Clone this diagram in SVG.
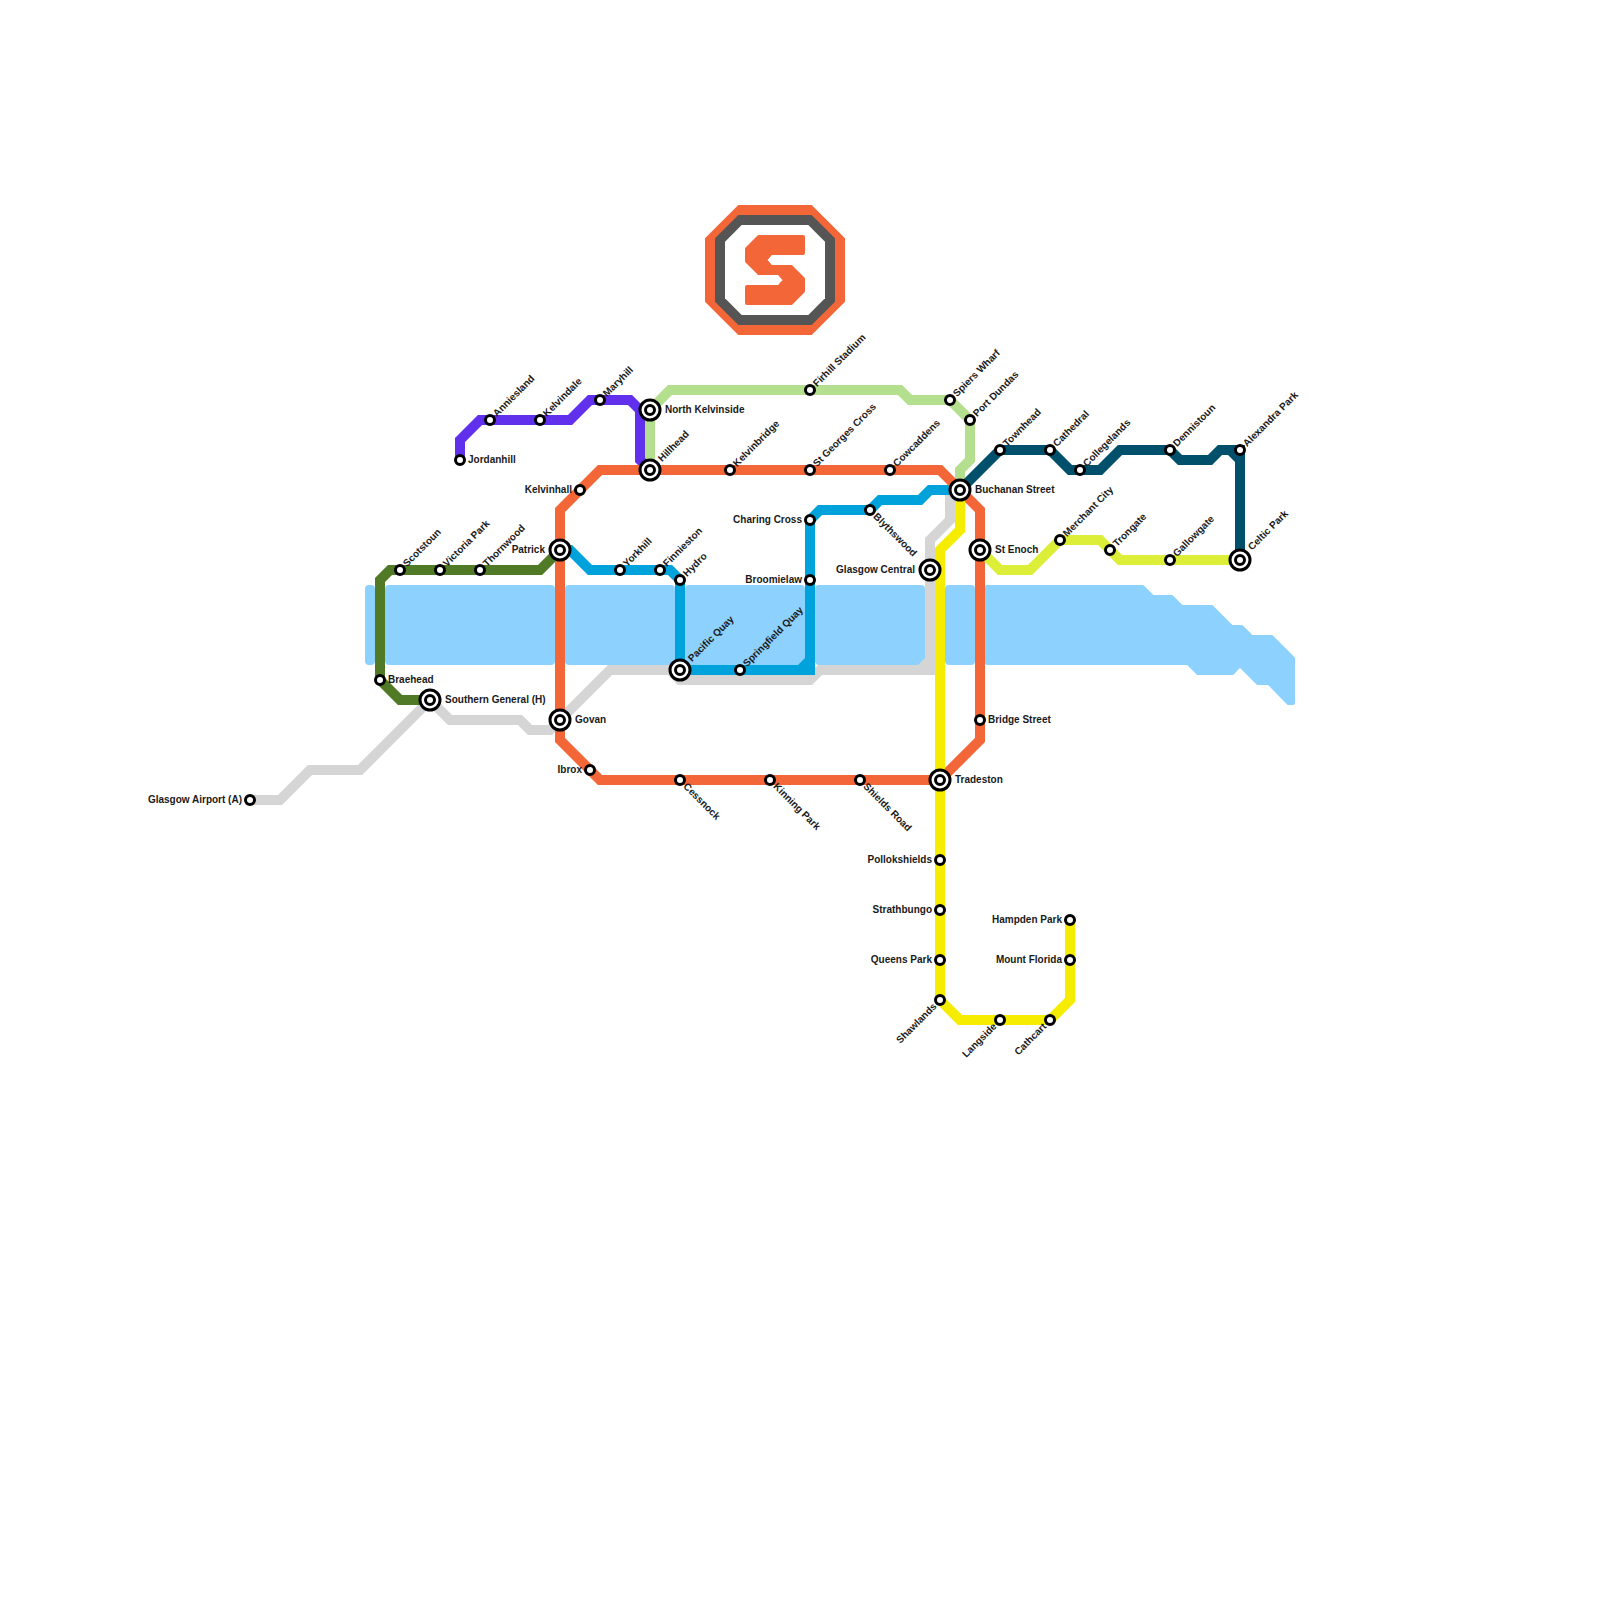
<svg xmlns="http://www.w3.org/2000/svg" width="1600" height="1600" viewBox="0 0 1600 1600">
<style>
.w{fill:#8dd2ff;stroke:#8dd2ff;stroke-width:4;stroke-linejoin:round}
.l{fill:none;stroke-width:10;stroke-linejoin:miter}
.s{fill:#fff;stroke:#000;stroke-width:3}
.o{fill:#fff;stroke:#000;stroke-width:3}
text{font-family:"Liberation Sans",Arial,sans-serif;font-size:10px;font-weight:700;fill:#1a1a1a}
.e{text-anchor:end}
</style>
<rect width="1600" height="1600" fill="#fff"/>
<g id="water">
<rect class="w" x="367" y="587" width="6" height="76" rx="2"/>
<rect class="w" x="387" y="587" width="166" height="76" rx="2"/>
<rect class="w" x="567" y="587" width="106" height="76" rx="2"/>
<rect class="w" x="687" y="587" width="116" height="76" rx="2"/>
<rect class="w" x="817" y="587" width="106" height="76" rx="2"/>
<rect class="w" x="947" y="587" width="26" height="76" rx="2"/>
<polygon class="w" points="987,587 1142.5,587 1152.5,597 1171.5,597 1181.5,607 1211.5,607 1231.5,627 1241.5,627 1251.5,637 1271.5,637 1293,658.5 1293,703 1288.5,703 1269,683 1258,683 1240,665 1232.5,673 1198,673 1188,663 987,663"/>
</g>
<g id="logo">
<polygon points="738.3,205 811.7,205 845,238.3 845,301.7 811.7,335 738.3,335 705,301.7 705,238.3" fill="#f26638"/>
<polygon points="738.3,215 811.7,215 835,238.3 835,301.7 811.7,325 738.3,325 715,301.7 715,238.3" fill="#555"/>
<polygon points="741.7,225 808.3,225 825,241.7 825,298.3 808.3,315 741.7,315 725,298.3 725,241.7" fill="#fff"/>
<polygon points="759,237 803,237 803,253 771,253 765,260 771,267 791,267 803,279 803,291 791,303 747,303 747,287 779,287 785,280 779,273 759,273 747,261 747,249" fill="#f26638" stroke="#f26638" stroke-width="4" stroke-linejoin="round"/>
</g>
<g id="connectors">
<path class="l" stroke="#d5d5d5" d="M250,800H280L310,770H360L430,700L450,720H520L530,730H550L610,670H670L680,680H810L820,670H930V540L950,520V490"/>
<polygon fill="#d5d5d5" points="925,665 925,658 918,665"/>
<path class="l" stroke="#b3df8e" d="M650,470V410L670,390H900L910,400H950L970,420V460L960,470V490"/>
<path class="l" stroke="#6030ec" d="M460,460V440L480,420H570L590,400H630L640,410V460L650,470"/>
<path class="l" stroke="#507a26" d="M560,550L540,570H390L380,580V680L400,700H430"/>
<path class="l" stroke="#00a2dc" d="M560,550H570L590,570H670L680,580V670H810V520L820,510H870L880,500H920L930,490H960"/>
<polygon fill="#00a2dc" points="805,665 805,658 798,665"/>
<path class="l" stroke="#f26638" d="M940,780H600L560,740V510L600,470H940L980,510V740L940,780"/>
<path class="l" stroke="#00506b" d="M960,490L1000,450H1050L1070,470H1100L1120,450H1170L1180,460H1210L1220,450H1240V560"/>
<polygon fill="#00506b" points="1235,455 1228,455 1235,462"/>
<path class="l" stroke="#dcee37" d="M980,550L1000,570H1030L1060,540H1100L1120,560H1240"/>
<path class="l" stroke="#f5ec00" d="M960,490V530L940,550V1000L960,1020H1050L1070,1000V920"/>
</g>
<g id="airport"><circle class="s" cx="250" cy="800" r="4.5"/><text class="e" x="242" y="803">Glasgow Airport (A)</text></g>
<g id="jordanhill"><circle class="s" cx="460" cy="460" r="4.5"/><text x="468" y="463">Jordanhill</text></g>
<g id="anniesland"><circle class="s" cx="490" cy="420" r="4.5"/><text transform="translate(490 420) rotate(-45)" x="7" y="3">Anniesland</text></g>
<g id="kelvindale"><circle class="s" cx="540" cy="420" r="4.5"/><text transform="translate(540 420) rotate(-45)" x="7" y="3">Kelvindale</text></g>
<g id="maryhill"><circle class="s" cx="600" cy="400" r="4.5"/><text transform="translate(600 400) rotate(-45)" x="7" y="3">Maryhill</text></g>
<g id="north-kelvinside"><circle class="o" cx="650" cy="410" r="10"/><circle class="s" cx="650" cy="410" r="4.5"/><text x="665" y="413">North Kelvinside</text></g>
<g id="hillhead"><circle class="o" cx="650" cy="470" r="10"/><circle class="s" cx="650" cy="470" r="4.5"/><text transform="translate(650 470) rotate(-45)" x="14" y="3">Hillhead</text></g>
<g id="kelvinhall"><circle class="s" cx="580" cy="490" r="4.5"/><text class="e" x="572" y="493">Kelvinhall</text></g>
<g id="patrick"><circle class="o" cx="560" cy="550" r="10"/><circle class="s" cx="560" cy="550" r="4.5"/><text class="e" x="545" y="553">Patrick</text></g>
<g id="scotstoun"><circle class="s" cx="400" cy="570" r="4.5"/><text transform="translate(400 570) rotate(-45)" x="7" y="3">Scotstoun</text></g>
<g id="victoria-park"><circle class="s" cx="440" cy="570" r="4.5"/><text transform="translate(440 570) rotate(-45)" x="7" y="3">Victoria Park</text></g>
<g id="thornwood"><circle class="s" cx="480" cy="570" r="4.5"/><text transform="translate(480 570) rotate(-45)" x="7" y="3">Thornwood</text></g>
<g id="yorkhill"><circle class="s" cx="620" cy="570" r="4.5"/><text transform="translate(620 570) rotate(-45)" x="7" y="3">Yorkhill</text></g>
<g id="finnieston"><circle class="s" cx="660" cy="570" r="4.5"/><text transform="translate(660 570) rotate(-45)" x="7" y="3">Finnieston</text></g>
<g id="hydro"><circle class="s" cx="680" cy="580" r="4.5"/><text transform="translate(680 580) rotate(-45)" x="7" y="3">Hydro</text></g>
<g id="pacific-quay"><circle class="o" cx="680" cy="670" r="10"/><circle class="s" cx="680" cy="670" r="4.5"/><text transform="translate(680 670) rotate(-45)" x="14" y="3">Pacific Quay</text></g>
<g id="springfield-quay"><circle class="s" cx="740" cy="670" r="4.5"/><text transform="translate(740 670) rotate(-45)" x="7" y="3">Springfield Quay</text></g>
<g id="braehead"><circle class="s" cx="380" cy="680" r="4.5"/><text x="388" y="682.5">Braehead</text></g>
<g id="southern-general"><circle class="o" cx="430" cy="700" r="10"/><circle class="s" cx="430" cy="700" r="4.5"/><text x="445" y="702.5">Southern General (H)</text></g>
<g id="govan"><circle class="o" cx="560" cy="720" r="10"/><circle class="s" cx="560" cy="720" r="4.5"/><text x="575" y="723">Govan</text></g>
<g id="ibrox"><circle class="s" cx="590" cy="770" r="4.5"/><text class="e" x="582" y="773">Ibrox</text></g>
<g id="cessnock"><circle class="s" cx="680" cy="780" r="4.5"/><text transform="translate(680 780) rotate(45)" x="7" y="3">Cessnock</text></g>
<g id="kinning-park"><circle class="s" cx="770" cy="780" r="4.5"/><text transform="translate(770 780) rotate(45)" x="7" y="3">Kinning Park</text></g>
<g id="shields-road"><circle class="s" cx="860" cy="780" r="4.5"/><text transform="translate(860 780) rotate(45)" x="7" y="3">Shields Road</text></g>
<g id="tradeston"><circle class="o" cx="940" cy="780" r="10"/><circle class="s" cx="940" cy="780" r="4.5"/><text x="955" y="783">Tradeston</text></g>
<g id="pollokshields"><circle class="s" cx="940" cy="860" r="4.5"/><text class="e" x="932" y="863">Pollokshields</text></g>
<g id="strathbungo"><circle class="s" cx="940" cy="910" r="4.5"/><text class="e" x="932" y="913">Strathbungo</text></g>
<g id="queens-park"><circle class="s" cx="940" cy="960" r="4.5"/><text class="e" x="932" y="963">Queens Park</text></g>
<g id="shawlands"><circle class="s" cx="940" cy="1000" r="4.5"/><text class="e" transform="translate(940 1000) rotate(-45)" x="-7" y="3">Shawlands</text></g>
<g id="langside"><circle class="s" cx="1000" cy="1020" r="4.5"/><text class="e" transform="translate(1000 1020) rotate(-45)" x="-7" y="3">Langside</text></g>
<g id="cathcart"><circle class="s" cx="1050" cy="1020" r="4.5"/><text class="e" transform="translate(1050 1020) rotate(-45)" x="-7" y="3">Cathcart</text></g>
<g id="hampden-park"><circle class="s" cx="1070" cy="920" r="4.5"/><text class="e" x="1062" y="923">Hampden Park</text></g>
<g id="mount-florida"><circle class="s" cx="1070" cy="960" r="4.5"/><text class="e" x="1062" y="963">Mount Florida</text></g>
<g id="bridge-street"><circle class="s" cx="980" cy="720" r="4.5"/><text x="988" y="723">Bridge Street</text></g>
<g id="st-enoch"><circle class="o" cx="980" cy="550" r="10"/><circle class="s" cx="980" cy="550" r="4.5"/><text x="995" y="553">St Enoch</text></g>
<g id="glasgow-central"><circle class="o" cx="930" cy="570" r="10"/><circle class="s" cx="930" cy="570" r="4.5"/><text class="e" x="915" y="573">Glasgow Central</text></g>
<g id="charing-cross"><circle class="s" cx="810" cy="520" r="4.5"/><text class="e" x="802" y="523">Charing Cross</text></g>
<g id="broomielaw"><circle class="s" cx="810" cy="580" r="4.5"/><text class="e" x="802" y="583">Broomielaw</text></g>
<g id="blythswood"><circle class="s" cx="870" cy="510" r="4.5"/><text transform="translate(870 510) rotate(45)" x="7" y="3">Blythswood</text></g>
<g id="kelvinbridge"><circle class="s" cx="730" cy="470" r="4.5"/><text transform="translate(730 470) rotate(-45)" x="7" y="3">Kelvinbridge</text></g>
<g id="st-georges-cross"><circle class="s" cx="810" cy="470" r="4.5"/><text transform="translate(810 470) rotate(-45)" x="7" y="3">St Georges Cross</text></g>
<g id="cowcaddens"><circle class="s" cx="890" cy="470" r="4.5"/><text transform="translate(890 470) rotate(-45)" x="7" y="3">Cowcaddens</text></g>
<g id="firhill-stadium"><circle class="s" cx="810" cy="390" r="4.5"/><text transform="translate(810 390) rotate(-45)" x="7" y="3">Firhill Stadium</text></g>
<g id="spiers-wharf"><circle class="s" cx="950" cy="400" r="4.5"/><text transform="translate(950 400) rotate(-45)" x="7" y="3">Spiers Wharf</text></g>
<g id="port-dundas"><circle class="s" cx="970" cy="420" r="4.5"/><text transform="translate(970 420) rotate(-45)" x="7" y="3">Port Dundas</text></g>
<g id="buchanan-street"><circle class="o" cx="960" cy="490" r="10"/><circle class="s" cx="960" cy="490" r="4.5"/><text x="975" y="493">Buchanan Street</text></g>
<g id="townhead"><circle class="s" cx="1000" cy="450" r="4.5"/><text transform="translate(1000 450) rotate(-45)" x="7" y="3">Townhead</text></g>
<g id="cathedral"><circle class="s" cx="1050" cy="450" r="4.5"/><text transform="translate(1050 450) rotate(-45)" x="7" y="3">Cathedral</text></g>
<g id="collegelands"><circle class="s" cx="1080" cy="470" r="4.5"/><text transform="translate(1080 470) rotate(-45)" x="7" y="3">Collegelands</text></g>
<g id="dennistoun"><circle class="s" cx="1170" cy="450" r="4.5"/><text transform="translate(1170 450) rotate(-45)" x="7" y="3">Dennistoun</text></g>
<g id="alexandra-park"><circle class="s" cx="1240" cy="450" r="4.5"/><text transform="translate(1240 450) rotate(-45)" x="7" y="3">Alexandra Park</text></g>
<g id="merchant-city"><circle class="s" cx="1060" cy="540" r="4.5"/><text transform="translate(1060 540) rotate(-45)" x="7" y="3">Merchant City</text></g>
<g id="trongate"><circle class="s" cx="1110" cy="550" r="4.5"/><text transform="translate(1110 550) rotate(-45)" x="7" y="3">Trongate</text></g>
<g id="gallowgate"><circle class="s" cx="1170" cy="560" r="4.5"/><text transform="translate(1170 560) rotate(-45)" x="7" y="3">Gallowgate</text></g>
<g id="celtic-park"><circle class="o" cx="1240" cy="560" r="10"/><circle class="s" cx="1240" cy="560" r="4.5"/><text transform="translate(1240 560) rotate(-45)" x="15" y="2">Celtic Park</text></g>
</svg>
